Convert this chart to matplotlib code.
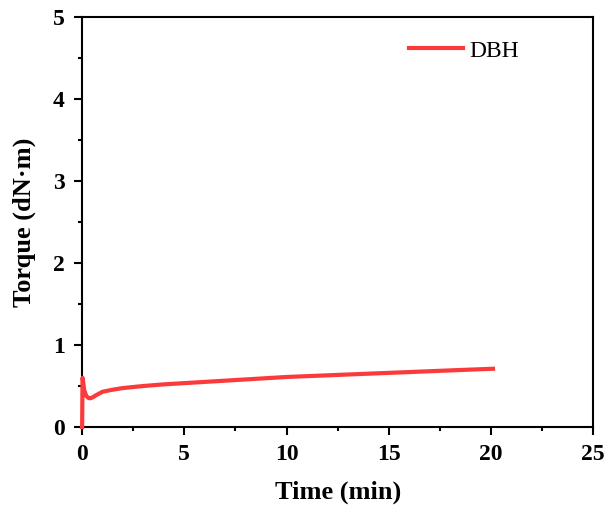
import matplotlib.pyplot as plt
import numpy as np

plt.rcParams['font.family'] = 'Liberation Serif'

time_min = [0.0, 0.02, 0.05, 0.1, 0.2, 0.3, 0.4, 0.5, 0.7, 1.0, 1.5, 2.0, 3.0, 4.0, 5.0,
            6.0, 7.0, 8.0, 9.0, 10.0, 11.0, 12.0, 13.0, 14.0, 15.0, 16.0, 17.0, 18.0, 19.0, 20.1]
torque = [0.0, 0.6, 0.55, 0.45, 0.38, 0.355, 0.35, 0.36, 0.39, 0.43, 0.455, 0.475, 0.5, 0.52, 0.535,
          0.55, 0.565, 0.58, 0.595, 0.61, 0.62, 0.63, 0.64, 0.65, 0.66, 0.67, 0.68, 0.69, 0.7, 0.71]

fig, ax = plt.subplots(figsize=(6.04, 5.12), dpi=100)
fig.subplots_adjust(left=0.136, right=0.982, top=0.967, bottom=0.166)

ax.plot(time_min, torque, color='#fb3b3b', lw=3, label='DBH', clip_on=False, zorder=5)

ax.set_xlim(0, 25)
ax.set_ylim(0, 5)
ax.set_xticks(np.arange(0, 26, 5))
ax.set_xticks(np.arange(2.5, 25, 5), minor=True)
ax.set_yticks(np.arange(0, 6, 1))
ax.set_yticks(np.arange(0.5, 5, 1), minor=True)
ax.tick_params(which='major', direction='out', length=5.5, width=1.5, labelsize=17, pad=7)
ax.tick_params(which='minor', direction='out', length=3, width=1.5)
for lab in ax.get_xticklabels() + ax.get_yticklabels():
    lab.set_fontweight('bold')
for sp in ax.spines.values():
    sp.set_linewidth(1.5)

ax.set_xlabel('Time (min)', fontsize=19, fontweight='bold', labelpad=11)
ax.set_ylabel('Torque (dN·m)', fontsize=19, fontweight='bold', labelpad=12)

ax.legend(loc='center left', frameon=False, fontsize=17, handlelength=2.3,
          handletextpad=0.25, borderpad=0, borderaxespad=0,
          bbox_to_anchor=(0.64, 0.917))

plt.savefig('out.png', dpi=100)
